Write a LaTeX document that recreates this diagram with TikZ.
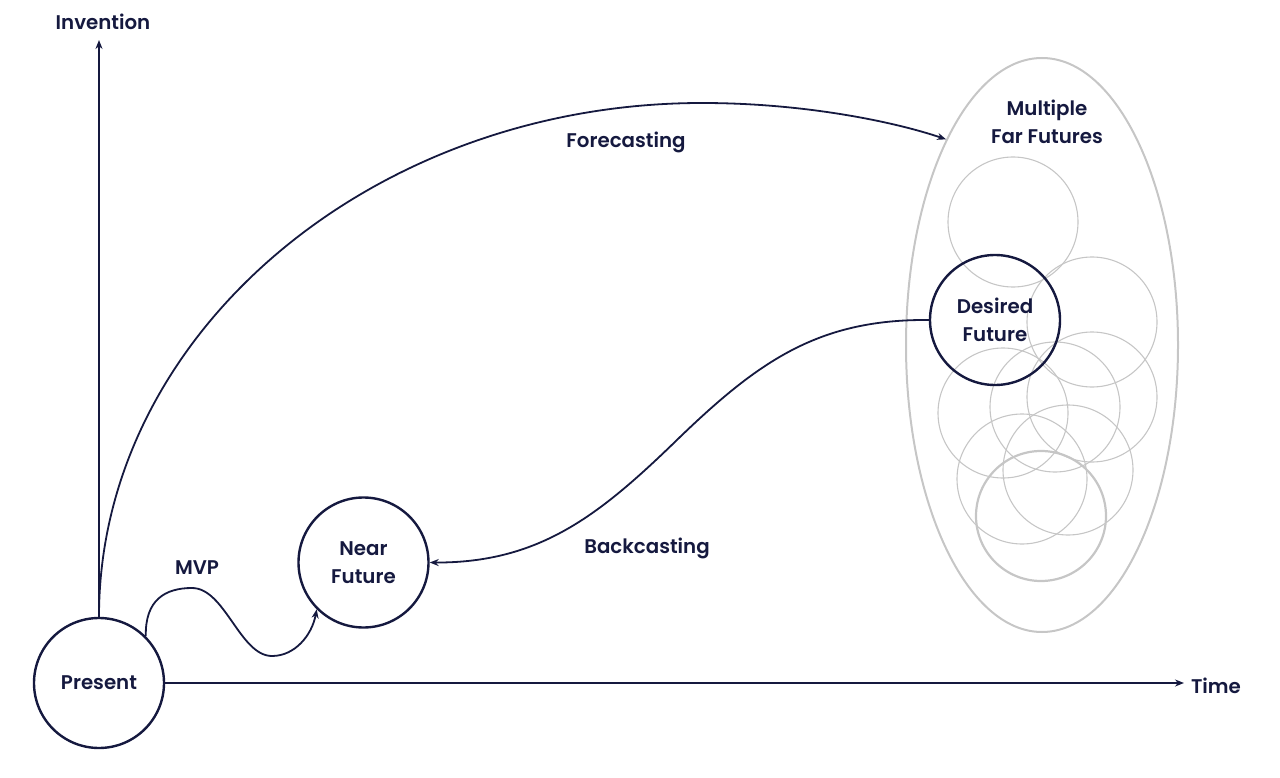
\documentclass[tikz,border=0pt]{standalone}
\usepackage{fontspec}
\setmainfont{Poppins}
\newfontfamily\lblfont{Poppins SemiBold}
\usetikzlibrary{arrows.meta,shapes.geometric}
\definecolor{navy}{HTML}{15193F}
\definecolor{lgray}{HTML}{C6C6C6}
\tikzset{
  lbl/.style={font=\lblfont\fontsize{19.8}{27.5}\selectfont, text=navy, align=center, inner sep=0},
  bigcirc/.style={circle, draw=navy, line width=2.4pt, minimum size=130pt, inner sep=0, lbl},
  graycirc/.style={circle, draw=lgray, line width=1.1pt, minimum size=130pt, inner sep=0},
  conn/.style={draw=navy, line width=1.8pt},
  tip/.style={-{Stealth[length=9pt,width=7pt]}},
}
\begin{document}
\begin{tikzpicture}[x=1pt,y=-1pt]
\useasboundingbox (0,0) rectangle (1280,778);
% far futures ellipse
\node[ellipse, draw=lgray, line width=2pt, minimum width=272pt, minimum height=574pt, inner sep=0] (FF) at (1042,345) {};
\node[lbl] (FFt) at (1047,122) {Multiple\\Far Futures};
% gray circles
\node[graycirc] (g1) at (1013,222) {};
\node[graycirc] (g2) at (1092,322) {};
\node[graycirc] (g3) at (1003,413) {};
\node[graycirc] (g4) at (1055,407) {};
\node[graycirc] (g5) at (1092,397) {};
\node[graycirc] (g6) at (1022,479) {};
\node[graycirc] (g7) at (1068,470) {};
\node[graycirc, line width=2.2pt] (g8) at (1041,516) {};
% main nodes
\node[bigcirc] (D) at (995,320) {Desired\\Future};
\node[bigcirc] (P) at (99,683) {Present};
\node[bigcirc] (NF) at (363.5,562.5) {Near\\Future};
% axes
\coordinate (ytip) at (99,40);
\coordinate (xtip) at (1184,683);
\draw[conn, line width=1.6pt, tip] (P.north) -- (ytip);
\draw[conn, line width=1.6pt, tip] (P.east) -- (xtip);
\node[lbl] (inv) at (103,22) {Invention};
\node[lbl] (time) at (1216,686) {Time};
% forecasting
\draw[conn, tip] (P.north) .. controls (99,334) and (372,103) .. (702,103)
   .. controls (805,103) and (895,122) .. (FF.115);
\node[lbl] (fc) at (626,142) {Forecasting};
% backcasting
\draw[conn, tip] (D.west) .. controls (820,319) and (760,360) .. (680,437)
   .. controls (600,515) and (540,563) .. (NF.east);
\node[lbl] (bc) at (647,548) {Backcasting};
% MVP
\draw[conn, tip] (P.45) .. controls (145,600) and (165,588) .. (192,588)
   .. controls (225,588) and (240,656) .. (272,656)
   .. controls (295,656) and (312,635) .. (NF.225);
\node[lbl] (mvp) at (197,568) {MVP};
\end{tikzpicture}
\end{document}
